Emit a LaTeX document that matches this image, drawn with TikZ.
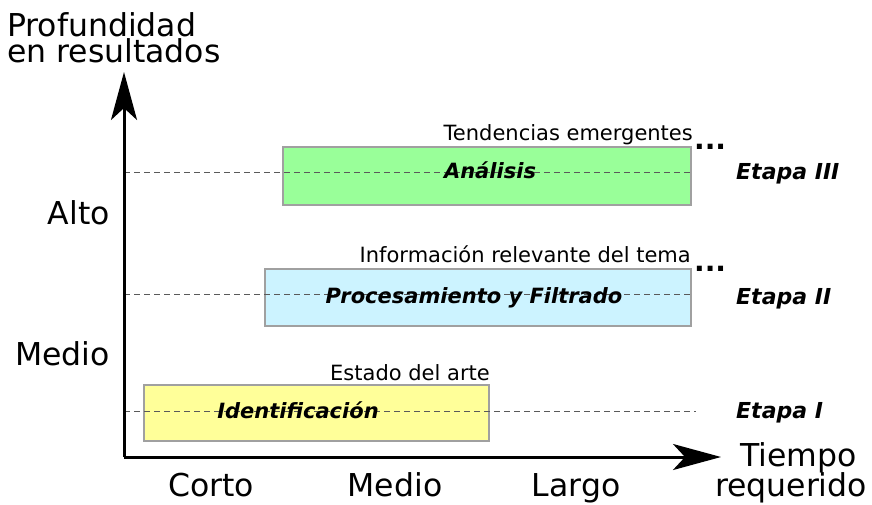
\documentclass[tikz,border=0pt]{standalone}
\usepackage{fontspec}
\setmainfont{DejaVu Sans}
\usetikzlibrary{arrows.meta}
\definecolor{greenfill}{HTML}{99FF99}
\definecolor{bluefill}{HTML}{CCF3FF}
\definecolor{yellowfill}{HTML}{FFFF99}
\definecolor{boxgray}{HTML}{A0A0A0}
\begin{document}
\begin{tikzpicture}[x=1pt,y=-1pt,
  big/.style={font=\fontsize{31.5}{26}\selectfont, inner sep=0pt},
  small/.style={font=\fontsize{21}{22}\selectfont, inner sep=0pt},
  stage/.style={font=\fontsize{21}{22}\selectfont\bfseries\itshape, inner sep=0pt},
  etapa/.style={font=\fontsize{22}{22}\selectfont\bfseries\itshape, inner sep=0pt, anchor=base west},
  dots/.style={font=\fontsize{28}{26}\selectfont\bfseries, inner sep=0pt, anchor=base west},
  phase/.style={draw=boxgray, line width=1.6pt, inner sep=0pt, anchor=north west},
  guide/.style={dash pattern=on 6pt off 4pt, draw=black!65, line width=0.8pt},
  axis/.style={line width=3pt, -{Stealth[length=48pt,width=26pt,inset=12pt]}}]
\useasboundingbox (0,0) rectangle (872,504);

% boxes
\node[phase, fill=greenfill, minimum width=408pt, minimum height=58pt] (b3) at (282,146) {};
\node[phase, fill=bluefill, minimum width=426pt, minimum height=57pt] (b2) at (264,268) {};
\node[phase, fill=yellowfill, minimum width=345pt, minimum height=56pt] (b1) at (143,384) {};

% guide lines
\coordinate (g3a) at (124,172); \coordinate (g3b) at (692,172);
\coordinate (g2a) at (124,294); \coordinate (g2b) at (692,294);
\coordinate (g1a) at (124,411); \coordinate (g1b) at (696,411);
\draw[guide] (g3a) -- (g3b);
\draw[guide] (g2a) -- (g2b);
\draw[guide] (g1a) -- (g1b);

% axes
\coordinate (o) at (124,457);
\coordinate (ytip) at (124,72);
\coordinate (xtip) at (721,457);
\draw[axis] (o) -- (ytip);
\draw[axis] (o) -- (xtip);

% box labels
\node[stage, anchor=base] (t3) at (490,178) {Análisis};
\node[stage, anchor=base] (t2) at (474,303) {Procesamiento y Filtrado};
\node[stage, anchor=base] (t1) at (298,418) {Identificación};

% labels above boxes
\node[small, anchor=base east] (a3) at (693,140) {Tendencias emergentes};
\node[small, anchor=base east] (a2) at (691,262) {Información relevante del tema};
\node[small, anchor=base east] (a1) at (490,380) {Estado del arte};

% ellipses
\node[dots] (d3) at (694,149) {...};
\node[dots] (d2) at (694,271) {...};

% etapas
\node[etapa] (e3) at (736,179) {Etapa III};
\node[etapa] (e2) at (736,304) {Etapa II};
\node[etapa] (e1) at (736,418) {Etapa I};

% axis labels
\node[big, align=left, anchor=north west] (yl) at (7,12) {Profundidad\\en resultados};
\node[big, anchor=base east] (alto) at (110,224) {Alto};
\node[big, anchor=base east] (medio) at (110,365) {Medio};
\node[big, anchor=base] (corto) at (211,496) {Corto};
\node[big, anchor=base] (xmedio) at (395,496) {Medio};
\node[big, anchor=base] (largo) at (576,496) {Largo};
\node[big, align=center, anchor=north] (tx) at (791,442) {\hspace*{15pt}Tiempo\\[-1pt]requerido};
\end{tikzpicture}
\end{document}
